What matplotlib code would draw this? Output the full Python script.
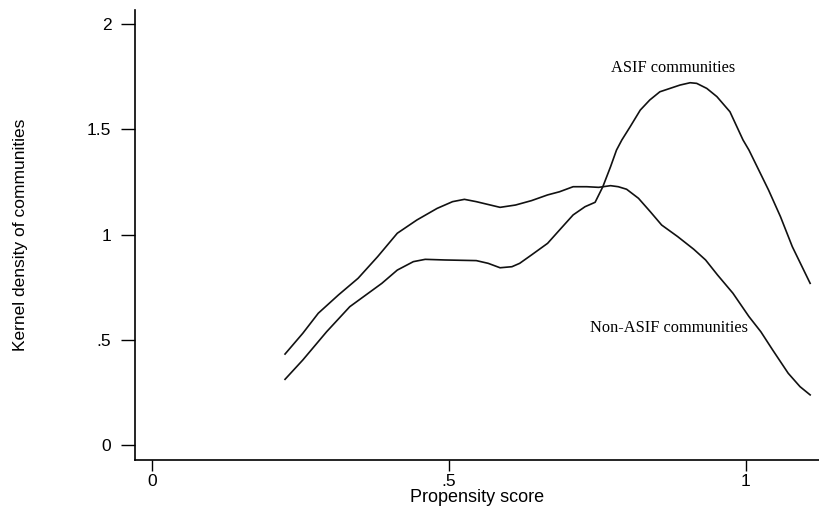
import matplotlib
matplotlib.use("Agg")
import matplotlib.pyplot as plt

# kernel density estimates read along the propensity score axis
asif_x = [0.224, 0.254, 0.294, 0.333, 0.387, 0.413, 0.440, 0.460, 0.493, 0.546,
          0.566, 0.586, 0.606, 0.619, 0.639, 0.666, 0.686, 0.709, 0.729, 0.746,
          0.759, 0.772, 0.782, 0.791, 0.805, 0.822, 0.838, 0.855, 0.872, 0.889,
          0.906, 0.917, 0.934, 0.951, 0.973, 0.995, 1.005, 1.038, 1.058, 1.078,
          1.108]
asif_y = [0.312, 0.404, 0.538, 0.657, 0.768, 0.831, 0.871, 0.882, 0.879, 0.876,
          0.863, 0.842, 0.847, 0.863, 0.903, 0.958, 1.021, 1.093, 1.132, 1.153,
          1.227, 1.322, 1.401, 1.449, 1.512, 1.591, 1.639, 1.678, 1.694, 1.710,
          1.721, 1.718, 1.694, 1.655, 1.583, 1.449, 1.401, 1.211, 1.085, 0.942,
          0.768]

non_asif_x = [0.224, 0.254, 0.280, 0.314, 0.347, 0.380, 0.413, 0.446, 0.480, 0.506,
              0.526, 0.546, 0.586, 0.612, 0.639, 0.666, 0.686, 0.709, 0.732, 0.752,
              0.772, 0.785, 0.799, 0.819, 0.839, 0.858, 0.885, 0.912, 0.932, 0.952,
              0.978, 1.005, 1.025, 1.045, 1.071, 1.091, 1.108]
non_asif_y = [0.432, 0.531, 0.626, 0.713, 0.792, 0.895, 1.006, 1.069, 1.124, 1.156,
              1.167, 1.156, 1.129, 1.140, 1.161, 1.188, 1.203, 1.227, 1.227, 1.224,
              1.232, 1.227, 1.215, 1.172, 1.108, 1.045, 0.990, 0.930, 0.879, 0.808,
              0.721, 0.610, 0.538, 0.451, 0.341, 0.277, 0.238]

x_ticks = [0, 0.5, 1]
x_tick_labels = ["0", ".5", "1"]
y_ticks = [0, 0.5, 1, 1.5, 2]
y_tick_labels = ["0", ".5", "1", "1.5", "2"]


def main():
    plt.rcParams["font.family"] = ["Liberation Sans", "DejaVu Sans"]
    fig = plt.figure(figsize=(8.19, 5.13), dpi=100)
    ax = fig.add_axes([0.1648, 0.1033, 0.8352, 0.8772])

    ax.plot(asif_x, asif_y, color="#111111", lw=1.2)
    ax.plot(non_asif_x, non_asif_y, color="#111111", lw=1.2)

    ax.text(0.877, 1.79, "ASIF communities", family="Liberation Serif",
            fontsize=11.8, ha="center", va="center")
    ax.text(0.871, 0.556, "Non-ASIF communities", family="Liberation Serif",
            fontsize=11.8, ha="center", va="center")

    ax.set_xlim(-0.0286, 1.1229)
    ax.set_ylim(-0.0713, 2.0665)
    ax.set_xticks(x_ticks)
    ax.set_xticklabels(x_tick_labels, fontsize=12.5)
    ax.set_yticks(y_ticks)
    ax.set_yticklabels(y_tick_labels, fontsize=12.5)
    ax.tick_params(axis="x", length=8, width=1, pad=2)
    ax.tick_params(axis="y", length=10, width=1, pad=7)

    for side in ("top", "right"):
        ax.spines[side].set_visible(False)
    for side in ("left", "bottom"):
        ax.spines[side].set_linewidth(1.2)

    ax.set_xlabel("Propensity score", fontsize=13, labelpad=0)
    ax.set_ylabel("Kernel density of communities", fontsize=12.5, va="center")
    ax.yaxis.set_label_coords(-0.168, 0.5)

    fig.savefig("out.png", dpi=100)


if __name__ == "__main__":
    main()
